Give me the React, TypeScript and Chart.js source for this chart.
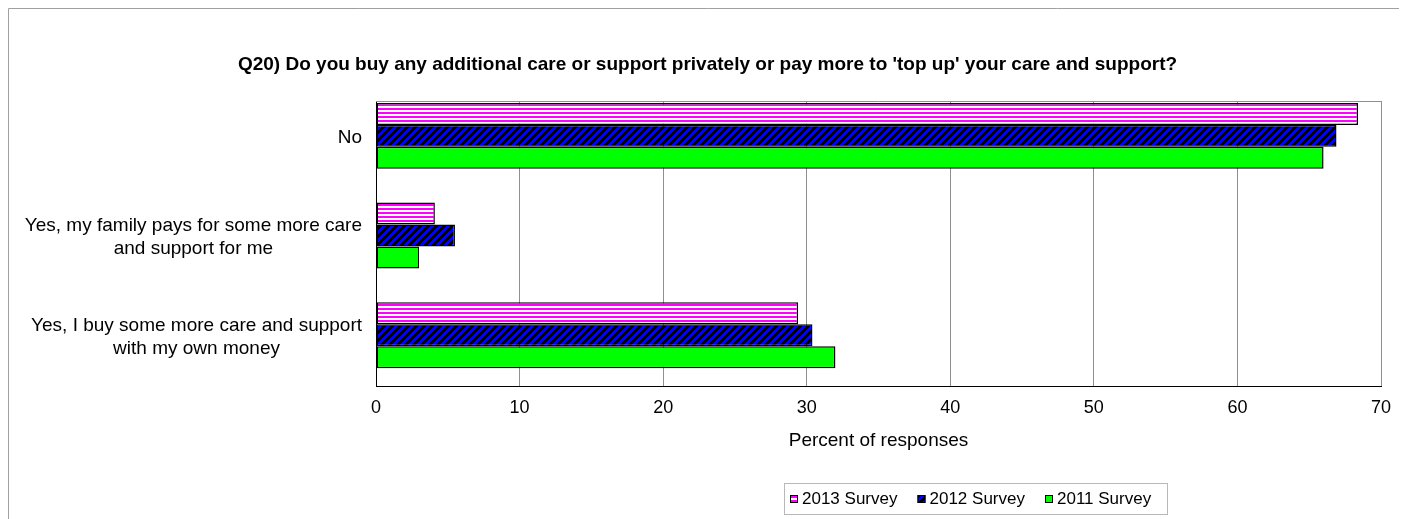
import React, { useEffect, useRef } from "react";
import { Chart, registerables } from "chart.js";

Chart.register(...registerables);

const chartTitle =
  "Q20) Do you buy any additional care or support privately or pay more to 'top up' your care and support?";
const categories: string[][] = [
  ["No"],
  ["Yes, my family pays for some more care", "and support for me"],
  ["Yes, I buy some more care and support", "with my own money"],
];
const seriesNames = ["2013 Survey", "2012 Survey", "2011 Survey"];
const values2013 = [68.4, 4.1, 29.4];
const values2012 = [66.9, 5.5, 30.4];
const values2011 = [66.0, 3.0, 32.0];
const xTickValues = [0, 10, 20, 30, 40, 50, 60, 70];
const xAxisTitle = "Percent of responses";

const FONT = "'Liberation Sans', Arial, sans-serif";
const LABEL_SIZE = 19;
const TICK_SIZE = 18;
const LEGEND_SIZE = 17;
const TITLE_SIZE = 19;

function makePinkPattern(ctx: CanvasRenderingContext2D) {
  const c = document.createElement("canvas");
  c.width = 4;
  c.height = 4;
  const g = c.getContext("2d")!;
  g.fillStyle = "#ffffff";
  g.fillRect(0, 0, 4, 4);
  g.fillStyle = "#ff00ff";
  g.fillRect(0, 0, 4, 2);
  return ctx.createPattern(c, "repeat")!;
}

function makeBluePattern(ctx: CanvasRenderingContext2D) {
  const c = document.createElement("canvas");
  c.width = 8;
  c.height = 8;
  const g = c.getContext("2d")!;
  for (let y = 0; y < 8; y++) {
    for (let x = 0; x < 8; x++) {
      g.fillStyle = (x + y) % 8 < 4 ? "#0000ff" : "#000000";
      g.fillRect(x, y, 1, 1);
    }
  }
  return ctx.createPattern(c, "repeat")!;
}

export default function App() {
  const ref = useRef<HTMLCanvasElement | null>(null);

  useEffect(() => {
    document.documentElement.style.overflow = "hidden";
    document.body.style.overflow = "hidden";
    const canvas = ref.current!;
    const ctx = canvas.getContext("2d")!;
    const pink = makePinkPattern(ctx);
    const blue = makeBluePattern(ctx);
    const fills: any[] = [pink, blue, "#00ff00"];

    const toPoints = (vals: number[]) => vals.map((v, i) => ({ x: v, y: i }));

    const decor = {
      id: "decor",
      beforeDatasetsDraw(chart: any) {
        const c = chart.ctx;
        const { left, top, right } = chart.chartArea;
        c.save();
        c.strokeStyle = "#909090";
        c.lineWidth = 1;
        c.beginPath();
        c.moveTo(left, top + 0.5);
        c.lineTo(right, top + 0.5);
        c.stroke();
        c.restore();
      },
      afterDraw(chart: any) {
        const c = chart.ctx as CanvasRenderingContext2D;
        const { left } = chart.chartArea;
        c.save();
        // outer frame (clipped on right/bottom like the reference)
        c.strokeStyle = "#a0a0a0";
        c.lineWidth = 1;
        c.beginPath();
        c.moveTo(0.5, chart.height);
        c.lineTo(0.5, 0.5);
        c.lineTo(chart.width, 0.5);
        c.stroke();

        // category labels (block right-aligned, lines centered)
        const yScale = chart.scales.y;
        c.font = `${LABEL_SIZE}px ${FONT}`;
        c.fillStyle = "#000";
        c.textAlign = "center";
        c.textBaseline = "middle";
        const lineGap = 23;
        categories.forEach((lines, i) => {
          const yc = yScale.getPixelForValue(i) + 2;
          const widest = Math.max(...lines.map((l) => c.measureText(l).width));
          const xc = left - 14 - widest / 2;
          lines.forEach((l, j) => {
            const y = yc + (j - (lines.length - 1) / 2) * lineGap;
            c.fillText(l, xc, y);
          });
        });

        // legend
        const bx = 776, by = 475, bw = 383, bh = 31;
        c.fillStyle = "#ffffff";
        c.fillRect(bx, by, bw, bh);
        c.strokeStyle = "#b8b8b8";
        c.strokeRect(bx + 0.5, by + 0.5, bw, bh);
        c.font = `${LEGEND_SIZE}px ${FONT}`;
        c.textAlign = "left";
        c.textBaseline = "middle";
        const cy = by + bh / 2 + 0.5;
        seriesNames.forEach((name, i) => {
          const mx = 782 + i * 127.5;
          const ms = 8;
          c.fillStyle = fills[i];
          c.fillRect(mx, cy - ms / 2, ms, ms);
          c.strokeStyle = "#000";
          c.strokeRect(mx + 0.5, cy - ms / 2 + 0.5, ms - 1, ms - 1);
          c.fillStyle = "#000";
          c.fillText(name, mx + ms + 4, cy);
        });
        c.restore();
      },
    };

    const chart = new Chart(ctx, {
      type: "bar",
      data: {
        datasets: [values2013, values2012, values2011].map((vals, i) => ({
          label: seriesNames[i],
          data: toPoints(vals) as any,
          backgroundColor: fills[i],
          borderColor: "#000000",
          borderWidth: 1.5,
          borderSkipped: false,
          categoryPercentage: 0.662,
          barPercentage: 1,
        })),
      },
      options: {
        indexAxis: "y",
        animation: false,
        responsive: false,
        maintainAspectRatio: false,
        layout: { padding: { left: 0, right: 0, top: 0, bottom: 66.6 } },
        plugins: {
          legend: { display: false },
          tooltip: { enabled: false },
          title: {
            display: true,
            text: chartTitle,
            color: "#000",
            font: { family: FONT, size: TITLE_SIZE, weight: "bold", lineHeight: 1.2 },
            padding: { top: 45.6, bottom: 24.6 },
          },
        },
        scales: {
          x: {
            type: "linear",
            position: "bottom",
            min: 0,
            max: 70,
            afterBuildTicks: (scale: any) => {
              scale.ticks = xTickValues.map((v) => ({ value: v }));
            },
            ticks: {
              color: "#000",
              font: { family: FONT, size: TICK_SIZE },
              padding: 11,
              maxRotation: 0,
            },
            grid: { color: "#909090", lineWidth: 1, drawTicks: false },
            border: { display: true, color: "#000", width: 1 },
            title: {
              display: true,
              text: xAxisTitle,
              color: "#000",
              font: { family: FONT, size: LABEL_SIZE, lineHeight: 1.2 },
              padding: 0,
            },
            afterFit: (scale: any) => {
              scale.height = 66.4;
            },
          },
          y: {
            type: "linear",
            position: "left",
            reverse: true,
            offset: false,
            min: -0.35,
            max: 2.51,
            ticks: { display: false, stepSize: 1, includeBounds: false },
            grid: { display: false, offset: false },
            border: { display: true, color: "#000", width: 1 },
            afterFit: (scale: any) => {
              scale.width = 368;
            },
          },
          yRight: {
            type: "linear",
            position: "right",
            display: true,
            ticks: { display: false },
            grid: { display: false },
            border: { display: false },
            afterFit: (scale: any) => {
              scale.width = 26;
            },
          },
        },
      },
      plugins: [decor],
    } as any);

    return () => chart.destroy();
  }, []);

  return (
    <div style={{ width: 1399, height: 511 }}>
      <canvas ref={ref} width={1399} height={511} style={{ display: "block" }} />
    </div>
  );
}
